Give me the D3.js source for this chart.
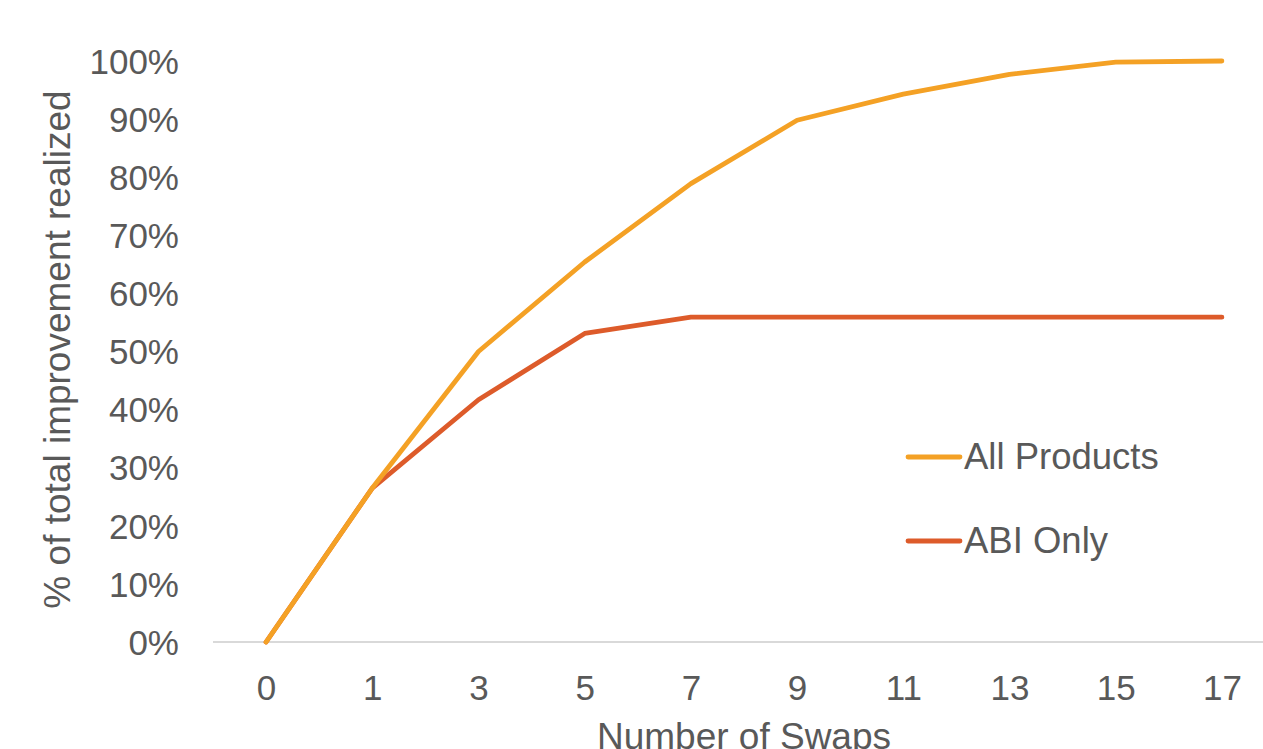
<!DOCTYPE html>
<html>
<head>
<meta charset="utf-8">
<script src="https://cdn.jsdelivr.net/npm/d3@7/dist/d3.min.js"></script>
<style>
  html, body { margin: 0; padding: 0; background: #fff; overflow: hidden; }
  svg { display: block; }
  text { font-family: "Liberation Sans", Arial, sans-serif; fill: #595959; }
</style>
</head>
<body>
<svg id="chart" width="1263" height="749"></svg>
<script>
const categories = ["0", "1", "3", "5", "7", "9", "11", "13", "15", "17"];
const allProducts = [0, 0.265, 0.50, 0.654, 0.789, 0.898, 0.943, 0.977, 0.998, 1.0];
const abiOnly = [0, 0.265, 0.417, 0.531, 0.559, 0.559, 0.559, 0.559, 0.559, 0.559];
const yTicks = [0, 0.1, 0.2, 0.3, 0.4, 0.5, 0.6, 0.7, 0.8, 0.9, 1.0];
const seriesNames = ["All Products", "ABI Only"];
const seriesColors = ["#F4A125", "#DD5B2A"];
const yTitle = "% of total improvement realized";
const xTitle = "Number of Swaps";

const svg = d3.select("#chart");
const x = d3.scalePoint().domain(categories).range([213, 1275]).padding(0.5);
const y = d3.scaleLinear().domain([0, 1]).range([642, 61]);

// y axis labels
const yAxis = d3.axisLeft(y).tickValues(yTicks).tickFormat(d3.format(".0%")).tickSize(0).tickPadding(0);
const yg = svg.append("g").attr("transform", "translate(179,0)").call(yAxis);
yg.select(".domain").remove();
yg.selectAll("text").attr("font-size", 35).style("font-family", "Liberation Sans, Arial, sans-serif").attr("fill", "#595959").attr("dy", "0.35em");

// x axis
const xAxis = d3.axisBottom(x).tickSize(0).tickPadding(0);
const xg = svg.append("g").attr("transform", "translate(0,642)").call(xAxis);
xg.select(".domain").attr("stroke", "#d9d9d9").attr("stroke-width", 2).attr("d", "M213,0H1275");
xg.selectAll("text").attr("font-size", 35).style("font-family", "Liberation Sans, Arial, sans-serif").attr("fill", "#595959").attr("dy", null).attr("y", 58);

// lines
const data = [allProducts, abiOnly];
const line = d3.line().x((d, i) => x(categories[i])).y(d => y(d));
[1, 0].forEach(s => {
  svg.append("path")
    .datum(data[s])
    .attr("d", line)
    .attr("fill", "none")
    .attr("stroke", seriesColors[s])
    .attr("stroke-width", 4.8)
    .attr("stroke-linejoin", "round")
    .attr("stroke-linecap", "round");
});

// legend
const legendY = [457, 541];
seriesNames.forEach((name, i) => {
  svg.append("line")
    .attr("x1", 908).attr("x2", 960)
    .attr("y1", legendY[i]).attr("y2", legendY[i])
    .attr("stroke", seriesColors[i]).attr("stroke-width", 4.8).attr("stroke-linecap", "round");
  svg.append("text")
    .attr("x", 964).attr("y", legendY[i] + 11.5)
    .attr("font-size", 36.5)
    .text(name);
});

// axis titles
svg.append("text")
  .attr("transform", "translate(70," + ((61 + 642) / 2 - 2) + ") rotate(-90)")
  .attr("text-anchor", "middle")
  .attr("font-size", 37)
  .text(yTitle);

svg.append("text")
  .attr("x", 744).attr("y", 749)
  .attr("text-anchor", "middle")
  .attr("font-size", 37)
  .text(xTitle);
</script>
</body>
</html>
